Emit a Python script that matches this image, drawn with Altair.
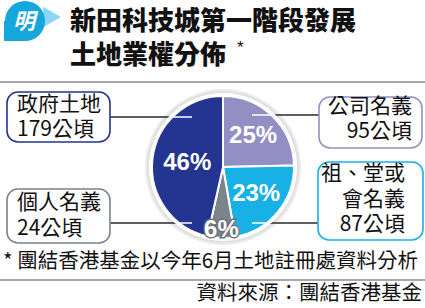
import altair as alt
import pandas as pd

# ---------------- data ----------------
categories = ["公司名義", "祖、堂或會名義", "個人名義", "政府土地"]
hectares = [95, 87, 24, 179]
percents = [25, 23, 6, 46]
slice_colors = ["#938fc4", "#17b1e6", "#7a848c", "#243591"]

box_name_lines = [["公司名義"], ["祖、堂或", "會名義"], ["個人名義"], ["政府土地"]]
unit = "公頃"

title_lines = ["新田科技城第一階段發展", "土地業權分佈"]
title_mark = "*"
footnote = "* 團結香港基金以今年6月土地註冊處資料分析"
source = "資料來源：團結香港基金"
logo_char = "明"

# ---------------- layout ----------------
W, H = 425, 308
CX, CY = 223, 167
R_SLICE, R_DISK, R_SHADOW = 71, 74, 78
CJK = "Noto Sans CJK TC"
LAT = "Liberation Sans"
BOX_FS = 21

one = alt.Data(values=[{"k": 1}])


def text(s, x, y, size, align="left", weight="normal", color="#111", font=CJK, italic=False):
    kw = dict(text=s, font=font, fontSize=size, align=align, baseline="middle",
              fontWeight=weight, color=color)
    if italic:
        kw["fontStyle"] = "italic"
    return alt.Chart(one).mark_text(**kw).encode(x=alt.value(x), y=alt.value(y))


def hrule(x1, x2, y, color, width):
    return alt.Chart(one).mark_rule(color=color, strokeWidth=width).encode(
        x=alt.value(x1), x2=alt.value(x2), y=alt.value(y))


def box(x1, x2, y1, y2, color):
    return alt.Chart(one).mark_rect(cornerRadius=11, fill="white", stroke=color,
                                    strokeWidth=1.6).encode(
        x=alt.value(x1), x2=alt.value(x2), y=alt.value(y1), y2=alt.value(y2))


def disk(r, color, cx=CX, cy=CY):
    return alt.Chart(one).mark_arc(outerRadius=r, theta=0, theta2=6.2832, fill=color).encode(
        x=alt.value(cx), y=alt.value(cy))


layers = []

# logo (speech bubble)
layers.append(alt.Chart(one).mark_point(shape="triangle-right", filled=True, size=420,
                                        color="#8ed5f3", opacity=1).encode(
    x=alt.value(52), y=alt.value(17)))
layers.append(disk(20, "#15a6de", cx=25, cy=21))
layers.append(alt.Chart(one).mark_rect(fill="#15a6de").encode(
    x=alt.value(4), x2=alt.value(25), y=alt.value(21), y2=alt.value(41)))
layers.append(text(logo_char, 24, 22, 22, align="center", weight="bold", color="white",
                   italic=True))

# title
layers.append(text(title_lines[0], 70, 22, 26, weight=900))
layers.append(text(title_lines[1], 70, 56, 26, weight=900))
layers.append(text(title_mark, 237, 48, 17, font=LAT))

# separators
layers.append(hrule(0, W, 82, "#8c8c8c", 1.5))
layers.append(hrule(0, W, 280, "#8c8c8c", 1.5))

# pie shadow
layers.append(disk(R_SHADOW, "#ececec"))
layers.append(disk(R_SHADOW - 2, "#e0e0e0"))

# leader lines (black, below the pie)
LINE = "#2a2a2a"
layers.append(hrule(110, 192, 117, LINE, 1.5))
layers.append(hrule(110, 192, 223, LINE, 1.5))
layers.append(hrule(252, 319, 115, LINE, 1.5))
layers.append(hrule(252, 318, 223, LINE, 1.5))

# white disk (border)
layers.append(disk(R_DISK, "white"))

# pie slices
df = pd.DataFrame({"cat": categories, "value": hectares, "pct": percents,
                   "idx": list(range(len(categories)))})

base = (alt.Chart(df)
        .transform_joinaggregate(total="sum(value)")
        .transform_window(cum="sum(value)", sort=[alt.SortField("idx")], frame=[None, 0])
        .transform_calculate(a0="(datum.cum - datum.value) / datum.total * 2 * PI")
        .transform_calculate(a1="datum.cum / datum.total * 2 * PI")
        .transform_calculate(mid="(datum.a0 + datum.a1) / 2")
        .transform_calculate(lr="datum.pct < 10 ? 63 : (datum.pct > 40 ? 36 : 43)")
        .transform_calculate(lab="datum.pct + '%'"))

pie = base.mark_arc(outerRadius=R_SLICE, stroke="white", strokeWidth=2).encode(
    theta=alt.Theta("a0:Q", scale=None),
    theta2=alt.Theta2("a1:Q"),
    color=alt.Color("cat:N", scale=alt.Scale(domain=categories, range=slice_colors),
                    legend=None),
    x=alt.value(CX), y=alt.value(CY),
)
layers.append(pie)

# white inner segments of leader lines
layers.append(hrule(171, 192, 117, "white", 1.5))
layers.append(hrule(177, 192, 223, "white", 1.5))
layers.append(hrule(252, 273, 115, "white", 1.5))
layers.append(hrule(252, 268, 223, "white", 1.5))

# percentage labels
lab_enc = dict(theta=alt.Theta("mid:Q", scale=None), radius=alt.Radius("lr:Q", scale=None),
               text="lab:N", x=alt.value(CX), y=alt.value(CY))
layers.append(base.transform_filter("datum.pct < 10").mark_text(
    font=LAT, fontSize=24, fontWeight="bold", baseline="middle", align="center",
    fill="#6a737b", stroke="#6a737b", strokeWidth=3).encode(**lab_enc))
layers.append(base.mark_text(
    font=LAT, fontSize=24, fontWeight="bold", baseline="middle", align="center",
    fill="white").encode(**lab_enc))

# label boxes
# 政府土地
layers.append(box(7, 110, 92, 142, slice_colors[3]))
layers.append(text(box_name_lines[3][0], 17, 105, BOX_FS))
layers.append(text(f"{hectares[3]}{unit}", 17, 130, BOX_FS))
# 個人名義
layers.append(box(7, 110, 189, 243, slice_colors[2]))
layers.append(text(box_name_lines[2][0], 17, 203, BOX_FS))
layers.append(text(f"{hectares[2]}{unit}", 17, 229, BOX_FS))
# 公司名義
layers.append(box(319, 422, 97, 148, slice_colors[0]))
layers.append(text(box_name_lines[0][0], 412, 107, BOX_FS, align="right"))
layers.append(text(f"{hectares[0]}{unit}", 412, 132, BOX_FS, align="right"))
# 祖、堂或會名義
layers.append(box(318, 423, 162, 240, slice_colors[1]))
layers.append(text(box_name_lines[1][0], 405, 174, BOX_FS, align="right"))
layers.append(text(box_name_lines[1][1], 405, 200, BOX_FS, align="right"))
layers.append(text(f"{hectares[1]}{unit}", 405, 225, BOX_FS, align="right"))

# footnote & source
layers.append(text(footnote, 3, 262, 20.5))
layers.append(text(source, 422, 294, 20.5, align="right"))

chart = alt.layer(*layers).properties(
    width=W, height=H, padding=0, autosize=alt.AutoSizeParams(type="none"),
    background="white",
).configure_view(stroke=None)

chart.save("out.html", embed_options={"renderer": "svg", "actions": False})
